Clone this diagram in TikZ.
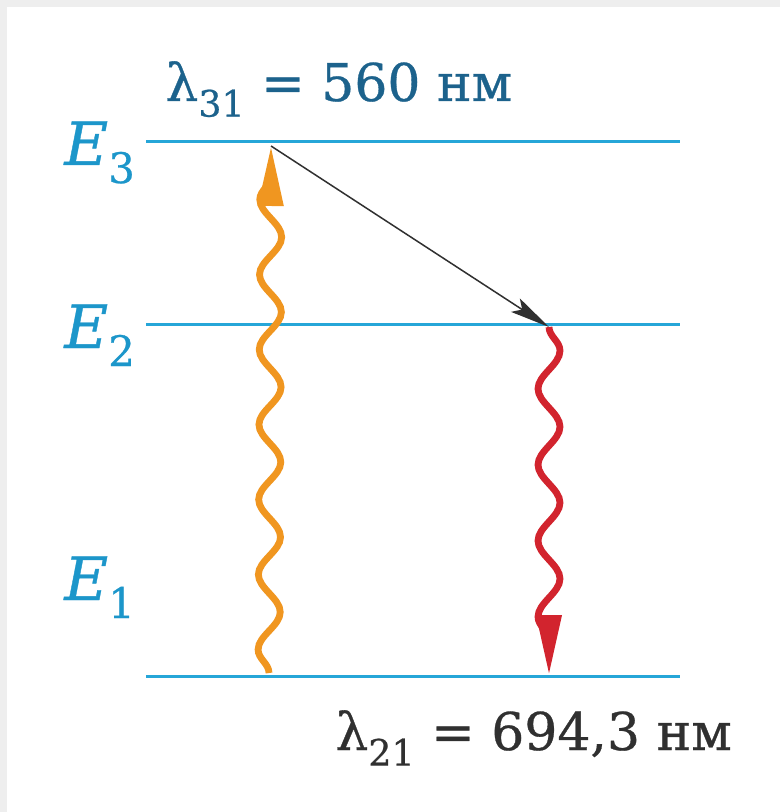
\documentclass[tikz,border=0pt]{standalone}
\usepackage{fontspec}
\usepackage{graphicx}
\setmainfont{DejaVu Serif}
\newfontfamily\medfont[FakeBold=0.6]{DejaVu Serif}
\usetikzlibrary{arrows.meta,decorations.pathmorphing}
\definecolor{levelblue}{RGB}{38,166,216}
\definecolor{elblue}{RGB}{28,150,202}
\definecolor{topblue}{RGB}{28,98,140}
\definecolor{labgray}{RGB}{48,48,48}
\definecolor{pumporange}{RGB}{240,150,32}
\definecolor{emitred}{RGB}{210,36,46}
\definecolor{framegray}{RGB}{238,238,238}
\newcommand{\lsub}[1]{\raisebox{-0.3em}{\scalebox{0.7}{\upshape #1}}}

\begin{document}
\begin{tikzpicture}[x=0.5pt,y=-0.5pt,
	level/.style={draw=levelblue,line width=1.5pt},
	elabel/.style={anchor=base west,inner sep=0pt,text=elblue,font=\fontsize{30}{36}\selectfont\medfont\itshape},
	lamlabel/.style={anchor=base west,inner sep=0pt,font=\fontsize{26}{31}\selectfont\medfont},
	photon/.style={line width=3.4pt,decorate,
		decoration={snake,segment length=#1,amplitude=5.5pt,post length=8pt},
		arrows={-Triangle[length=30pt,width=12pt]}},
	trans/.style={draw=labgray,line width=0.75pt,arrows={-Stealth[length=20pt,width=8pt,inset=4pt]}}]
	\useasboundingbox (0,0) rectangle (780,812);
	\fill[white] (0,0) rectangle (780,812);
	\fill[framegray] (0,0) rectangle (780,7);
	\fill[framegray] (0,0) rectangle (7,812);

	\coordinate (E3l) at (146,142);
	\coordinate (E3r) at (680,142);
	\coordinate (E2l) at (146,324);
	\coordinate (E2r) at (680,324);
	\coordinate (E1l) at (146,676);
	\coordinate (E1r) at (680,676);
	\draw[level] (E3l) -- (E3r);
	\draw[level] (E2l) -- (E2r);
	\draw[level] (E1l) -- (E1r);

	\node[elabel] (E3lbl) at (64,165) {E\lsub{3}};
	\node[elabel] (E2lbl) at (64,348) {E\lsub{2}};
	\node[elabel] (E1lbl) at (64,600) {E\lsub{1}};

	\coordinate (pumpA) at (269,673);
	\coordinate (pumpB) at (271,146);
	\coordinate (emitA) at (549,327);
	\coordinate (emitB) at (549,675);
	\draw[photon=37.5pt,draw=pumporange] (pumpA) -- (pumpB);
	\draw[trans] (pumpB) -- (emitA);
	\draw[photon=38pt,draw=emitred] (emitA) -- (emitB);

	\node[lamlabel,text=topblue] (lam31) at (165,101) {λ\lsub{31} = 560 нм};
	\node[lamlabel,text=labgray] (lam21) at (335,750) {λ\lsub{21} = 694,3 нм};
\end{tikzpicture}
\end{document}
